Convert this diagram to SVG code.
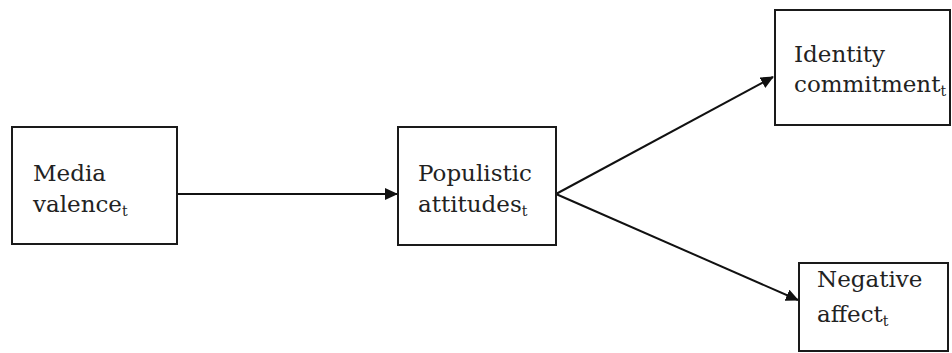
<svg xmlns="http://www.w3.org/2000/svg" width="952" height="353" viewBox="0 0 952 353">
<style>
.box{fill:#fff;stroke:#1a1a1a;stroke-width:2}
.t{font-family:"DejaVu Serif",serif;font-size:23px;fill:#222}
.s{font-size:14px}
.c{stroke:#111;stroke-width:2;fill:none}
</style>
<defs>
<marker id="ah" markerWidth="13" markerHeight="12" refX="12" refY="6" orient="auto" markerUnits="userSpaceOnUse" viewBox="0 0 13 12">
<path d="M0,0 L13,6 L0,12 z" fill="#111"/>
</marker>
</defs>
<rect width="952" height="353" fill="#fff"/>
<g id="connectors">
<line class="c" x1="177" y1="194" x2="397" y2="194" marker-end="url(#ah)"/>
<line class="c" x1="556" y1="194" x2="773" y2="77" marker-end="url(#ah)"/>
<line class="c" x1="556" y1="194" x2="798" y2="300" marker-end="url(#ah)"/>
</g>
<g id="media">
<rect class="box" x="12" y="127" width="165" height="117"/>
<text class="t" x="33" y="181">Media</text>
<text class="t" x="33" y="212">valence<tspan class="s" dy="4">t</tspan></text>
</g>
<g id="populistic">
<rect class="box" x="398" y="127" width="158" height="118"/>
<text class="t" x="418" y="181">Populistic</text>
<text class="t" x="418" y="212">attitudes<tspan class="s" dy="4">t</tspan></text>
</g>
<g id="identity">
<rect class="box" x="775" y="10" width="175" height="115"/>
<text class="t" x="794" y="62">Identity</text>
<text class="t" x="794" y="92">commitment<tspan class="s" dy="4">t</tspan></text>
</g>
<g id="negative">
<rect class="box" x="799" y="263" width="149" height="88"/>
<text class="t" x="817" y="287">Negative</text>
<text class="t" x="817" y="322">affect<tspan class="s" dy="4">t</tspan></text>
</g>
</svg>
